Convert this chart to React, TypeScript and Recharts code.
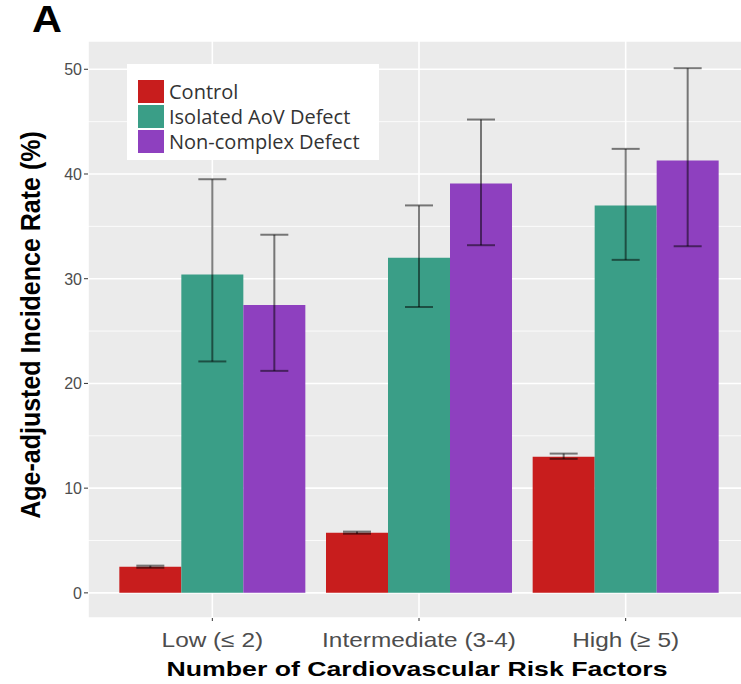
import React from "react"
import { BarChart, Bar, XAxis, YAxis, CartesianGrid, ErrorBar, Legend } from "recharts"

const categories = ["Low (≤ 2)", "Intermediate (3-4)", "High (≥ 5)"]

const controlValues = [2.5, 5.75, 13.0]
const controlLow = [2.4, 5.65, 12.8]
const controlHigh = [2.6, 5.85, 13.3]

const isolatedValues = [30.4, 32.0, 37.0]
const isolatedLow = [22.1, 27.3, 31.8]
const isolatedHigh = [39.5, 37.0, 42.4]

const nonComplexValues = [27.5, 39.1, 41.3]
const nonComplexLow = [21.2, 33.2, 33.1]
const nonComplexHigh = [34.2, 45.2, 50.1]

const yTicks = [0, 10, 20, 30, 40, 50]
const yMinorTicks = [5, 15, 25, 35, 45]

const series = [
  { key: "control", name: "Control", color: "#C81D1D" },
  { key: "isolated", name: "Isolated AoV Defect", color: "#3A9E87" },
  { key: "nonComplex", name: "Non-complex Defect", color: "#8E40BF" },
]

const data = categories.map((cat, i) => ({
  cat,
  control: controlValues[i],
  controlErr: [controlValues[i] - controlLow[i], controlHigh[i] - controlValues[i]],
  isolated: isolatedValues[i],
  isolatedErr: [isolatedValues[i] - isolatedLow[i], isolatedHigh[i] - isolatedValues[i]],
  nonComplex: nonComplexValues[i],
  nonComplexErr: [nonComplexValues[i] - nonComplexLow[i], nonComplexHigh[i] - nonComplexValues[i]],
}))

const sans = "'Liberation Sans', Arial, sans-serif"

function XTick({ x, y, payload }: any) {
  return (
    <g transform={`translate(${x},${y + 24})`}>
      <text x={0} y={0} transform="scale(1.22,1)" textAnchor="middle" fill="#4D4D4D" fontSize={20} fontFamily={sans}>
        {payload.value}
      </text>
    </g>
  )
}

function YTick({ x, y, payload }: any) {
  return (
    <text x={x} y={y + 6} textAnchor="end" fill="#4D4D4D" fontSize={16} fontFamily={sans}>
      {payload.value}
    </text>
  )
}

function LegendBox() {
  return (
    <div
      style={{
        background: "#fff",
        width: 252,
        height: 96,
        boxSizing: "border-box",
        padding: "15px 0 0 11px",
        fontFamily: "'Open Sans', sans-serif",
        fontSize: 20,
        color: "#333",
      }}
    >
      {series.map((s) => (
        <div key={s.key} style={{ display: "flex", alignItems: "center", height: 25 }}>
          <span style={{ width: 26, height: 23, background: s.color, marginRight: 5, flex: "none" }} />
          <span style={{ lineHeight: "25px", whiteSpace: "nowrap" }}>{s.name}</span>
        </div>
      ))}
    </div>
  )
}

export default function App() {
  return (
    <div style={{ position: "absolute", left: 0, top: 0, width: 741, height: 684, overflow: "hidden", background: "#fff" }}>
      <div
        style={{
          position: "absolute",
          left: 32,
          top: 4,
          lineHeight: "32px",
          transformOrigin: "0 0",
          transform: "scaleX(1.12)",
          fontFamily: sans,
          fontWeight: 700,
          fontSize: 37,
          color: "#000",
        }}
      >
        A
      </div>
      <BarChart
        width={760}
        height={684}
        data={data}
        margin={{ top: 41, right: 10, bottom: 0, left: 0 }}
        barCategoryGap="5%"
        barGap={0}
      >
        <CartesianGrid fill="#EBEBEB" stroke="#FFFFFF" strokeWidth={1.6} />
        <CartesianGrid stroke="#FFFFFF" strokeWidth={0.8} vertical={false} horizontalValues={yMinorTicks} />
        <XAxis
          dataKey="cat"
          height={66}
          padding={{ left: 21, right: 21 }}
          axisLine={false}
          tickSize={3}
          tickLine={{ stroke: "#333" }}
          tick={<XTick />}
          interval={0}
        />
        <YAxis
          width={88}
          domain={[-2.4, 52.7]}
          allowDataOverflow
          ticks={yTicks}
          axisLine={false}
          tickSize={4}
          tickLine={{ stroke: "#333" }}
          tick={<YTick />}
        />
        <Legend
          layout="horizontal"
          verticalAlign="middle"
          content={() => <LegendBox />}
          wrapperStyle={{ left: 127, top: 64, width: 252, height: 96 }}
        />
        {series.map((s) => (
          <Bar key={s.key} dataKey={s.key} name={s.name} fill={s.color} isAnimationActive={false}>
            <ErrorBar
              dataKey={s.key + "Err"}
              direction="y"
              width={14}
              stroke="rgba(0,0,0,0.5)"
              strokeWidth={2}
            />
          </Bar>
        ))}
      </BarChart>
      <div
        style={{
          position: "absolute",
          left: 30,
          top: 325,
          transform: "translate(-50%, -50%) rotate(-90deg) scaleY(1.12)",
          whiteSpace: "nowrap",
          fontFamily: sans,
          fontWeight: 700,
          fontSize: 25,
          color: "#000",
        }}
      >
        Age-adjusted Incidence Rate (%)
      </div>
      <div
        style={{
          position: "absolute",
          left: 417,
          top: 657,
          transform: "translateX(-50%) scaleX(1.27)",
          whiteSpace: "nowrap",
          fontFamily: sans,
          fontWeight: 700,
          fontSize: 21,
          color: "#000",
        }}
      >
        Number of Cardiovascular Risk Factors
      </div>
    </div>
  )
}
